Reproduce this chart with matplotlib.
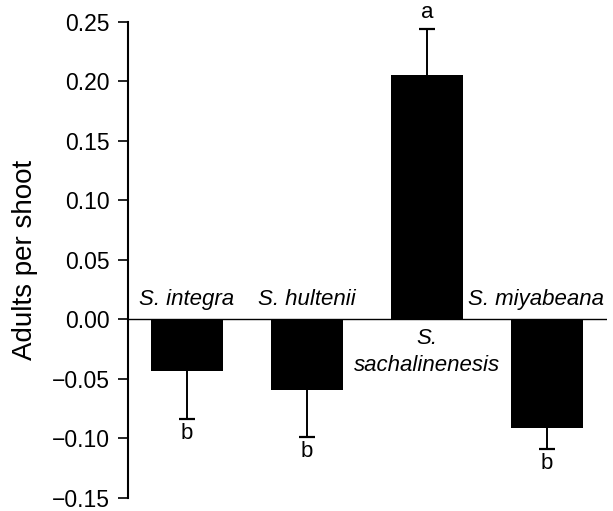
import numpy as np
import matplotlib
matplotlib.use("Agg")
import matplotlib.pyplot as plt

plt.rcParams['font.family'] = ['Liberation Sans', 'DejaVu Sans']

# data
species = ['S. integra', 'S. hultenii', 'S.\nsachalinenesis', 'S. miyabeana']
means = [-0.043, -0.059, 0.205, -0.091]
errs = [0.041, 0.040, 0.039, 0.018]
letters = ['b', 'b', 'a', 'b']
yTicks = [-0.15, -0.10, -0.05, 0.00, 0.05, 0.10, 0.15, 0.20, 0.25]

x = np.arange(len(means))
means = np.array(means)
errs = np.array(errs)
ends = means + np.sign(means)*errs

fig = plt.figure(figsize=(6.13, 5.11), dpi=100)
ax = fig.add_axes([0.209, 0.0255, 0.781, 0.932])

ax.bar(x, means, width=0.6, color='black', zorder=2)
# one-sided error bars, away from zero
ax.vlines(x, means, ends, color='black', lw=1.4, zorder=3)
ax.hlines(ends, x - 0.065, x + 0.065, color='black', lw=1.6, zorder=3)
ax.axhline(0, color='black', lw=1, zorder=1)

# species names (last one nudged left so it stays inside the figure)
nudge = [0.0, 0.0, 0.0, -0.09]
for i, name in enumerate(species):
    if means[i] < 0:
        ax.text(x[i] + nudge[i], 0.008, name, ha='center', va='bottom', style='italic', fontsize=16)
    else:
        ax.text(x[i] + nudge[i], -0.007, name, ha='center', va='top', style='italic', fontsize=16,
                linespacing=1.4)

# significance letters
for i, let in enumerate(letters):
    if means[i] < 0:
        ax.text(x[i], ends[i] - 0.003, let, ha='center', va='top', fontsize=16)
    else:
        ax.text(x[i], ends[i] + 0.005, let, ha='center', va='bottom', fontsize=16)

ax.set_xlim(-0.49, 3.5)
ax.set_ylim(-0.15, 0.25)
ax.set_yticks(yTicks)
ax.set_yticklabels([('%.2f' % v).replace('-', '\u2212') for v in yTicks])
ax.tick_params(axis='y', direction='out', length=7, width=1.2, labelsize=16.5, pad=6)
ax.set_xticks([])
for s in ['top', 'right', 'bottom']:
    ax.spines[s].set_visible(False)
ax.spines['left'].set_linewidth(1.5)
ax.set_ylabel('Adults per shoot', fontsize=20, labelpad=10)

fig.savefig('out.png', dpi=100)
